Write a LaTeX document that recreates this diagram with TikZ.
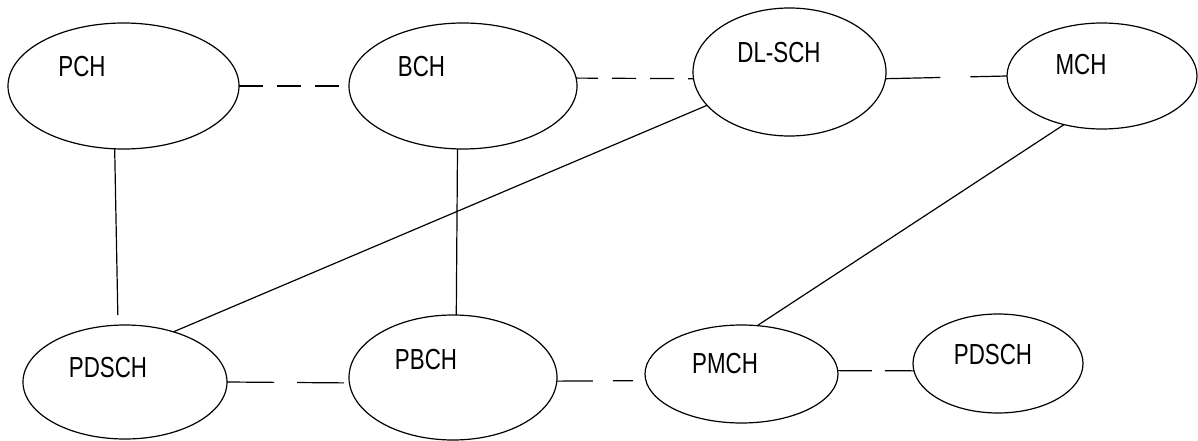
\documentclass[tikz,border=0pt]{standalone}
\usepackage{fontspec}
\setmainfont{Liberation Sans}[FakeStretch=0.77]
\usetikzlibrary{shapes.geometric}

\begin{document}
\begin{tikzpicture}[x=1pt,y=-1pt,line width=1.2pt,
  chan/.style={draw,ellipse,inner sep=0pt,outer sep=0pt},
  lbl/.style={inner sep=0pt,font=\fontsize{29}{33}\selectfont},
  dashline/.style={dash pattern=on 24pt off 14pt}]
\useasboundingbox (0,0) rectangle (1198,441);

\node[chan,minimum width=231pt,minimum height=126pt] (pch) at (123.5,86) {};
\node[chan,minimum width=228pt,minimum height=126pt] (bch) at (463,86) {};
\node[chan,minimum width=193pt,minimum height=128pt] (dlsch) at (789.5,72) {};
\node[chan,minimum width=190pt,minimum height=106pt] (mch) at (1102,76) {};
\node[chan,minimum width=204pt,minimum height=114pt] (pdscha) at (125,382) {};
\node[chan,minimum width=208pt,minimum height=125pt] (pbch) at (453,377.5) {};
\node[chan,minimum width=193pt,minimum height=98pt] (pmch) at (741.5,374) {};
\node[chan,minimum width=170pt,minimum height=99pt] (pdschb) at (998,363.5) {};

\node[lbl] (pchtext) at (82,66.5) {PCH};
\node[lbl] (bchtext) at (421.5,66.5) {BCH};
\node[lbl] (dlschtext) at (779,53) {DL-SCH};
\node[lbl] (mchtext) at (1081,65) {MCH};
\node[lbl] (pdschatext) at (108,368) {PDSCH};
\node[lbl] (pbchtext) at (426,360) {PBCH};
\node[lbl] (pmchtext) at (725,364) {PMCH};
\node[lbl] (pdschbtext) at (993,355) {PDSCH};

% dashed links
\draw[dashline] (pch.east) -- (bch.west);
\draw[dashline,dash phase=-36pt] (bch.4) -- (dlsch.184);
\draw[dash pattern=on 55pt off 30pt] (dlsch.-4) -- (mch.west);
\draw[dash pattern=on 47pt off 23pt] (pdscha.east) -- (pbch.183);
\draw[dash pattern=on 36pt off 20pt,shorten >=13pt] (pbch.-2) -- (pmch.184);
\draw[dash pattern=on 34pt off 13pt] (pmch.2) -- (pdschb.185);

% solid links
\draw[shorten >=10pt] (pch.262) -- (pdscha.97);
\draw (bch.265) -- (pbch.87);
\draw (dlsch.202) -- (pdscha.46);
\draw (mch.232) -- (pmch.72);
\end{tikzpicture}
\end{document}
